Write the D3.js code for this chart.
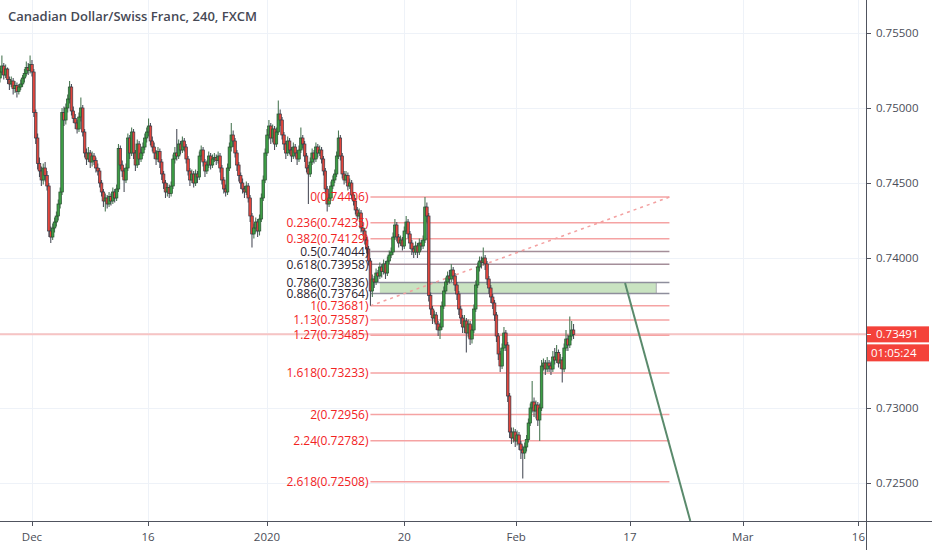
<!DOCTYPE html>
<html>
<head>
<meta charset="utf-8">
<script src="https://cdn.jsdelivr.net/npm/d3@7"></script>
<style>
html,body{margin:0;padding:0;background:#fff;}
svg{display:block;font-family:"Open Sans",sans-serif;}
</style>
</head>
<body>
<script>
// ---------------- DATA ----------------
const title = "Canadian Dollar/Swiss Franc, 240, FXCM";

const opens = [
0.7520,0.7524,0.7528,0.7522,0.7526,0.7519,0.7516,0.7518,0.7513,0.7515,
0.7511,0.7514,0.7516,0.7520,0.7523,0.7527,0.7525,0.7529,0.7524,0.7497,
0.7480,0.7463,0.7458,0.7452,0.7460,0.7455,0.7448,0.7418,0.7414,0.7420,
0.7424,0.7428,0.7436,0.7444,0.7497,0.7492,0.7500,0.7506,0.7514,0.7498,
0.7493,0.7490,0.7486,0.7494,0.7500,0.7484,0.7470,0.7466,0.7470,0.7464,
0.7468,0.7465,0.7460,0.7458,0.7450,0.7444,0.7438,0.7440,0.7436,0.7441,
0.7438,0.7444,0.7440,0.7446,0.7473,0.7462,0.7458,0.7452,0.7460,0.7480,
0.7470,0.7484,0.7470,0.7462,0.7476,0.7466,0.7470,0.7474,0.7480,0.7484,
0.7488,0.7478,0.7474,0.7470,0.7466,0.7471,0.7464,0.7456,0.7450,0.7444,
0.7447,0.7443,0.7448,0.7466,0.7470,0.7468,0.7476,0.7472,0.7478,0.7474,
0.7466,0.7458,0.7452,0.7456,0.7450,0.7456,0.7454,0.7468,0.7472,0.7464,
0.7458,0.7462,0.7468,0.7462,0.7466,0.7467,0.7465,0.7468,0.7460,0.7452,
0.7446,0.7444,0.7460,0.7474,0.7482,0.7478,0.7470,0.7462,0.7455,0.7450,
0.7446,0.7444,0.7448,0.7440,0.7428,0.7416,0.7420,0.7424,0.7418,0.7426,
0.7440,0.7452,0.7470,0.7482,0.7488,0.7480,0.7486,0.7476,0.7484,0.7496,
0.7492,0.7482,0.7476,0.7470,0.7478,0.7472,0.7468,0.7474,0.7470,0.7466,
0.7472,0.7480,0.7476,0.7468,0.7460,0.7456,0.7464,0.7470,0.7466,0.7474,
0.7470,0.7472,0.7466,0.7458,0.7446,0.7436,0.7440,0.7448,0.7452,0.7456,
0.7468,0.7480,0.7468,0.7456,0.7452,0.7455,0.7448,0.7450,0.7442,0.7438,
0.7432,0.7428,0.7430,0.7420,0.7418,0.7412,0.7406,0.7398,0.7378,0.7386,
0.7384,0.7390,0.7388,0.7394,0.7391,0.7396,0.7390,0.7398,0.7402,0.7404,
0.7414,0.7422,0.7414,0.7410,0.7412,0.7408,0.7418,0.7424,0.7416,0.7410,
0.7406,0.7404,0.7408,0.7404,0.7410,0.7408,0.7412,0.7434,0.7428,0.7375,
0.7366,0.7360,0.7362,0.7356,0.7352,0.7354,0.7368,0.7378,0.7384,0.7388,
0.7386,0.7392,0.7388,0.7382,0.7376,0.7366,0.7360,0.7354,0.7358,0.7350,
0.7356,0.7346,0.7352,0.7366,0.7382,0.7394,0.7398,0.7397,0.7400,0.7396,
0.7386,0.7380,0.7374,0.7370,0.7362,0.7348,0.7336,0.7328,0.7340,0.7350,
0.7342,0.7308,0.7284,0.7280,0.7284,0.7278,0.7282,0.7276,0.7272,0.7270,
0.7274,0.7279,0.7290,0.7300,0.7304,0.7298,0.7302,0.7292,0.7300,0.7328,
0.7330,0.7326,0.7330,0.7328,0.7326,0.7334,0.7332,0.7337,0.7330,0.7332,
0.7326,0.7340,0.7346,0.7342,0.7348,0.7352];

const highs = [
0.7527,0.7535,0.7530,0.7529,0.7527,0.7521,0.7521,0.7520,0.7518,0.7517,
0.7516,0.7519,0.7522,0.7526,0.7531,0.7530,0.7535,0.7532,0.7526,0.7499,
0.7483,0.7467,0.7461,0.7463,0.7464,0.7458,0.7450,0.7421,0.7423,0.7427,
0.7431,0.7439,0.7447,0.7500,0.7501,0.7503,0.7509,0.7518,0.7516,0.7501,
0.7496,0.7492,0.7497,0.7507,0.7502,0.7486,0.7473,0.7474,0.7472,0.7471,
0.7470,0.7467,0.7463,0.7460,0.7452,0.7446,0.7443,0.7442,0.7444,0.7443,
0.7447,0.7446,0.7449,0.7476,0.7475,0.7465,0.7460,0.7463,0.7483,0.7482,
0.7487,0.7486,0.7472,0.7479,0.7478,0.7473,0.7477,0.7483,0.7487,0.7493,
0.7490,0.7481,0.7477,0.7472,0.7474,0.7473,0.7466,0.7458,0.7452,0.7450,
0.7449,0.7451,0.7469,0.7474,0.7486,0.7479,0.7478,0.7481,0.7480,0.7476,
0.7468,0.7460,0.7459,0.7458,0.7459,0.7458,0.7471,0.7475,0.7474,0.7466,
0.7465,0.7471,0.7470,0.7469,0.7470,0.7469,0.7471,0.7470,0.7462,0.7454,
0.7449,0.7463,0.7477,0.7490,0.7485,0.7480,0.7472,0.7464,0.7457,0.7453,
0.7448,0.7451,0.7450,0.7442,0.7430,0.7423,0.7427,0.7426,0.7429,0.7443,
0.7455,0.7473,0.7486,0.7492,0.7490,0.7489,0.7488,0.7487,0.7505,0.7499,
0.7494,0.7484,0.7478,0.7481,0.7480,0.7474,0.7477,0.7476,0.7472,0.7475,
0.7487,0.7482,0.7478,0.7470,0.7462,0.7467,0.7473,0.7472,0.7477,0.7476,
0.7475,0.7474,0.7468,0.7460,0.7448,0.7443,0.7451,0.7455,0.7459,0.7471,
0.7485,0.7482,0.7470,0.7458,0.7458,0.7457,0.7453,0.7452,0.7444,0.7440,
0.7434,0.7433,0.7432,0.7422,0.7420,0.7414,0.7408,0.7400,0.7389,0.7388,
0.7393,0.7392,0.7397,0.7396,0.7399,0.7398,0.7401,0.7405,0.7407,0.7417,
0.7426,0.7424,0.7416,0.7415,0.7414,0.7421,0.7428,0.7426,0.7418,0.7412,
0.7408,0.7411,0.7410,0.7413,0.7412,0.7415,0.74406,0.7437,0.7430,0.7377,
0.7368,0.7365,0.7364,0.7358,0.7357,0.7371,0.7381,0.7387,0.7391,0.7392,
0.7396,0.7394,0.7390,0.7384,0.7378,0.7368,0.7362,0.7362,0.7360,0.7359,
0.7358,0.7355,0.7369,0.7385,0.7397,0.7401,0.7401,0.7407,0.7402,0.7398,
0.7388,0.7382,0.7376,0.7372,0.7364,0.7350,0.7338,0.7343,0.7354,0.7352,
0.7344,0.7310,0.7287,0.7287,0.7286,0.7285,0.7284,0.7278,0.7275,0.7277,
0.7282,0.7293,0.7303,0.7318,0.7307,0.7305,0.7304,0.7303,0.7332,0.7333,
0.7332,0.7334,0.7332,0.7331,0.7338,0.7340,0.7342,0.7339,0.7336,0.7334,
0.7343,0.7352,0.7349,0.7361,0.7358,0.7356];

const lows = [
0.7517,0.7522,0.7519,0.7520,0.7516,0.7512,0.7514,0.7509,0.7510,0.7507,
0.7509,0.7512,0.7514,0.7517,0.7521,0.7522,0.7523,0.7521,0.7494,0.7476,
0.7459,0.7454,0.7448,0.7449,0.7451,0.7445,0.7414,0.7410,0.7412,0.7417,
0.7421,0.7425,0.7433,0.7442,0.7488,0.7489,0.7497,0.7503,0.7495,0.7490,
0.7486,0.7483,0.7484,0.7491,0.7481,0.7467,0.7462,0.7464,0.7460,0.7461,
0.7462,0.7457,0.7455,0.7447,0.7441,0.7434,0.7431,0.7433,0.7434,0.7435,
0.7436,0.7437,0.7438,0.7444,0.7459,0.7454,0.7444,0.7450,0.7458,0.7466,
0.7468,0.7466,0.7458,0.7460,0.7462,0.7464,0.7468,0.7472,0.7477,0.7481,
0.7475,0.7471,0.7466,0.7462,0.7464,0.7460,0.7452,0.7446,0.7440,0.7441,
0.7440,0.7441,0.7446,0.7463,0.7465,0.7466,0.7469,0.7470,0.7471,0.7463,
0.7455,0.7448,0.7450,0.7447,0.7448,0.7450,0.7452,0.7465,0.7461,0.7454,
0.7456,0.7460,0.7459,0.7460,0.7464,0.7462,0.7463,0.7457,0.7449,0.7443,
0.7441,0.7442,0.7458,0.7471,0.7474,0.7467,0.7458,0.7451,0.7446,0.7443,
0.7440,0.7442,0.7437,0.7424,0.7407,0.7413,0.7417,0.7414,0.7415,0.7424,
0.7438,0.7450,0.7468,0.7479,0.7476,0.7477,0.7472,0.7474,0.7482,0.7488,
0.7479,0.7472,0.7466,0.7468,0.7469,0.7464,0.7466,0.7467,0.7462,0.7464,
0.7470,0.7473,0.7464,0.7457,0.7436,0.7454,0.7462,0.7463,0.7464,0.7467,
0.7468,0.7463,0.7455,0.7443,0.7431,0.7434,0.7438,0.7446,0.7450,0.7454,
0.7466,0.7465,0.7453,0.7449,0.7450,0.7445,0.7446,0.7439,0.7435,0.7429,
0.7425,0.7426,0.7417,0.7415,0.7409,0.7403,0.7395,0.73681,0.7374,0.7380,
0.7382,0.7384,0.7386,0.7387,0.7389,0.7386,0.7388,0.7396,0.7400,0.7402,
0.7412,0.7411,0.7407,0.7408,0.7405,0.7406,0.7416,0.7413,0.7406,0.7402,
0.7400,0.7402,0.7400,0.7402,0.7405,0.7406,0.7410,0.7424,0.7371,0.7362,
0.7356,0.7357,0.7352,0.7348,0.7346,0.7352,0.7366,0.7376,0.7382,0.7383,
0.7384,0.7385,0.7378,0.7372,0.7362,0.7356,0.7350,0.7350,0.7337,0.7347,
0.7342,0.7343,0.7350,0.7364,0.7380,0.7391,0.7393,0.7395,0.7392,0.7382,
0.7376,0.7370,0.7366,0.7358,0.7344,0.7332,0.7324,0.7326,0.7338,0.7338,
0.7304,0.7280,0.7276,0.7277,0.7274,0.7275,0.7272,0.7266,0.7253,0.7266,
0.7271,0.7277,0.7288,0.7297,0.7294,0.7293,0.7288,0.7278,0.7298,0.7325,
0.7322,0.7324,0.7324,0.7322,0.7324,0.7329,0.7330,0.7327,0.7326,0.7317,
0.7324,0.7338,0.7338,0.7340,0.7345,0.7346];

const closes = [
0.7524,0.7528,0.7522,0.7526,0.7519,0.7516,0.7518,0.7513,0.7515,0.7511,
0.7514,0.7516,0.7520,0.7523,0.7527,0.7525,0.7529,0.7524,0.7497,0.7480,
0.7463,0.7458,0.7452,0.7460,0.7455,0.7448,0.7418,0.7414,0.7420,0.7424,
0.7428,0.7436,0.7444,0.7497,0.7492,0.7500,0.7506,0.7514,0.7498,0.7493,
0.7490,0.7486,0.7494,0.7500,0.7484,0.7470,0.7466,0.7470,0.7464,0.7468,
0.7465,0.7460,0.7458,0.7450,0.7444,0.7438,0.7440,0.7436,0.7441,0.7438,
0.7444,0.7440,0.7446,0.7473,0.7462,0.7458,0.7452,0.7460,0.7480,0.7470,
0.7484,0.7470,0.7462,0.7476,0.7466,0.7470,0.7474,0.7480,0.7484,0.7488,
0.7478,0.7474,0.7470,0.7466,0.7471,0.7464,0.7456,0.7450,0.7444,0.7447,
0.7443,0.7448,0.7466,0.7470,0.7468,0.7476,0.7472,0.7478,0.7474,0.7466,
0.7458,0.7452,0.7456,0.7450,0.7456,0.7454,0.7468,0.7472,0.7464,0.7458,
0.7462,0.7468,0.7462,0.7466,0.7467,0.7465,0.7468,0.7460,0.7452,0.7446,
0.7444,0.7460,0.7474,0.7482,0.7478,0.7470,0.7462,0.7455,0.7450,0.7446,
0.7444,0.7448,0.7440,0.7428,0.7416,0.7420,0.7424,0.7418,0.7426,0.7440,
0.7452,0.7470,0.7482,0.7488,0.7480,0.7486,0.7476,0.7484,0.7496,0.7492,
0.7482,0.7476,0.7470,0.7478,0.7472,0.7468,0.7474,0.7470,0.7466,0.7472,
0.7480,0.7476,0.7468,0.7460,0.7456,0.7464,0.7470,0.7466,0.7474,0.7470,
0.7472,0.7466,0.7458,0.7446,0.7436,0.7440,0.7448,0.7452,0.7456,0.7468,
0.7480,0.7468,0.7456,0.7452,0.7455,0.7448,0.7450,0.7442,0.7438,0.7432,
0.7428,0.7430,0.7420,0.7418,0.7412,0.7406,0.7398,0.7378,0.7386,0.7384,
0.7390,0.7388,0.7394,0.7391,0.7396,0.7390,0.7398,0.7402,0.7404,0.7414,
0.7422,0.7414,0.7410,0.7412,0.7408,0.7418,0.7424,0.7416,0.7410,0.7406,
0.7404,0.7408,0.7404,0.7410,0.7408,0.7412,0.7434,0.7428,0.7375,0.7366,
0.7360,0.7362,0.7356,0.7352,0.7354,0.7368,0.7378,0.7384,0.7388,0.7386,
0.7392,0.7388,0.7382,0.7376,0.7366,0.7360,0.7354,0.7358,0.7350,0.7356,
0.7346,0.7352,0.7366,0.7382,0.7394,0.7398,0.7397,0.7400,0.7396,0.7386,
0.7380,0.7374,0.7370,0.7362,0.7348,0.7336,0.7328,0.7340,0.7350,0.7342,
0.7308,0.7284,0.7280,0.7284,0.7278,0.7282,0.7276,0.7272,0.7270,0.7274,
0.7279,0.7290,0.7300,0.7304,0.7298,0.7302,0.7292,0.7300,0.7328,0.7330,
0.7326,0.7330,0.7328,0.7326,0.7334,0.7332,0.7337,0.7330,0.7332,0.7326,
0.7340,0.7346,0.7342,0.7348,0.7352,0.73491];

// time axis (bar index of each date label)
const dateLabels = ["Dec","16","2020","20","Feb","17","Mar","16"];
const dateIdx    = [17, 78.7, 142, 215, 274.5, 335, 395, 456.5];

// price axis
const priceTicks = [0.755, 0.750, 0.745, 0.740, 0.735, 0.730, 0.725];

// Fibonacci extension drawing
const fibLevels = [0, 0.236, 0.382, 0.5, 0.618, 0.786, 0.886, 1, 1.13, 1.27, 1.618, 2, 2.24, 2.618];
const fibPrices = [0.74406, 0.74235, 0.74129, 0.74044, 0.73958, 0.73836, 0.73764, 0.73681, 0.73587, 0.73485, 0.73233, 0.72956, 0.72782, 0.72508];
const fibSpanIdx = [197, 356];
const zonePrices = [0.73836, 0.73764];
const zoneIdx = [202, 349];
const diagIdx = [197, 356];
const diagPrices = [0.73681, 0.74406];
const trendIdx = [332.4, 367.1];
const trendPrices = [0.73833, 0.72247];

const lastPrice = 0.73491;
const countdown = "01:05:24";

// ---------------- DRAW ----------------
const W = 932, H = 550, plotR = 866, plotB = 521;
const svg = d3.select("body").append("svg").attr("width", W).attr("height", H);

const x = d3.scaleLinear().domain([0, 460]).range([0, 865]);
const y = d3.scaleLinear().domain([0.72, 0.7572]).range([558, 0]);

svg.append("defs").append("clipPath").attr("id","plot")
  .append("rect").attr("x",0).attr("y",0).attr("width",plotR).attr("height",plotB);

const plot = svg.append("g").attr("clip-path","url(#plot)");

// grid
plot.append("g").selectAll("line").data(dateIdx).join("line")
  .attr("x1", d=>Math.round(x(d))+0.5).attr("x2", d=>Math.round(x(d))+0.5)
  .attr("y1",0).attr("y2",plotB).attr("stroke","#eef2f8").attr("stroke-width",1);
plot.append("g").selectAll("line").data(priceTicks).join("line")
  .attr("y1", d=>Math.round(y(d))+0.5).attr("y2", d=>Math.round(y(d))+0.5)
  .attr("x1",0).attr("x2",plotR).attr("stroke","#eef2f8").attr("stroke-width",1);

// current price line
plot.append("line").attr("x1",0).attr("x2",plotR)
  .attr("y1",y(lastPrice)).attr("y2",y(lastPrice))
  .attr("stroke","#f7c4c4").attr("stroke-width",2);

// zone
plot.append("rect")
  .attr("x", x(zoneIdx[0])).attr("width", x(zoneIdx[1]) - x(zoneIdx[0]))
  .attr("y", y(zonePrices[0])).attr("height", y(zonePrices[1]) - y(zonePrices[0]))
  .attr("fill","#c9e3c1");
plot.append("line")
  .attr("x1", x(zoneIdx[1])).attr("x2", x(zoneIdx[1]))
  .attr("y1", y(zonePrices[0])).attr("y2", y(zonePrices[1]))
  .attr("stroke","#a9acb2").attr("stroke-width",1);

const darkSet = new Set([0.5, 0.618]);
const grayset = new Set([0.786, 0.886]);
const fibData = fibLevels.map((l,i)=>({l, p: fibPrices[i]}));
plot.append("g").selectAll("line").data(fibData).join("line")
  .attr("x1", x(fibSpanIdx[0])).attr("x2", x(fibSpanIdx[1]))
  .attr("y1", d=>y(d.p)).attr("y2", d=>y(d.p))
  .attr("stroke", d=> darkSet.has(d.l) ? "#a48e99" : grayset.has(d.l) ? "#8e8e9c" : "#f5a3a3")
  .attr("stroke-width", 1.5);

// dashed diagonal
plot.append("line")
  .attr("x1", x(diagIdx[0])).attr("y1", y(diagPrices[0]))
  .attr("x2", x(diagIdx[1])).attr("y2", y(diagPrices[1]))
  .attr("stroke","#f3a0a0").attr("stroke-width",1.5).attr("stroke-dasharray","3,4");

// candles
const candles = closes.map((c,i)=>({i, o: opens[i], h: highs[i], l: lows[i], c}));
const cg = plot.append("g");
cg.selectAll("line").data(candles).join("line")
  .attr("x1", d=>x(d.i)).attr("x2", d=>x(d.i))
  .attr("y1", d=>y(d.h)).attr("y2", d=>y(d.l))
  .attr("stroke", d=> d.c >= d.o ? "#4d7a57" : "#4e515c").attr("stroke-width",1.1);
cg.selectAll("rect").data(candles).join("rect")
  .attr("x", d=>x(d.i)-1.3).attr("width",2.6)
  .attr("y", d=>y(Math.max(d.o,d.c)))
  .attr("height", d=>Math.max(1, Math.abs(y(d.o)-y(d.c))))
  .attr("fill", d=> d.c >= d.o ? "#3c9e45" : "#e2453c")
  .attr("stroke", d=> d.c >= d.o ? "#2a4f32" : "#383a46").attr("stroke-width",0.7);

// green trend line
plot.append("line")
  .attr("x1", x(trendIdx[0])).attr("y1", y(trendPrices[0]))
  .attr("x2", x(trendIdx[1])).attr("y2", y(trendPrices[1]))
  .attr("stroke","#5a8a6c").attr("stroke-width",2);

// fib labels
svg.append("g").selectAll("text").data(fibData).join("text")
  .attr("x", x(fibSpanIdx[0]) - 2).attr("y", d=>y(d.p))
  .attr("dy","0.35em").attr("text-anchor","end")
  .attr("font-size",12)
  .attr("fill", d=> (darkSet.has(d.l) || grayset.has(d.l)) ? "#2c2430" : "#f2231f")
  .text(d=> `${d.l}(${d.p.toFixed(5)})`);

// title
svg.append("text").attr("x",8).attr("y",21)
  .attr("font-size",13).attr("font-weight",600).attr("fill","#464955")
  .text(title);

// axes
svg.append("line").attr("x1",plotR+0.5).attr("x2",plotR+0.5).attr("y1",0).attr("y2",H)
  .attr("stroke","#50535e").attr("stroke-width",1);
svg.append("line").attr("x1",0).attr("x2",W).attr("y1",plotB+0.5).attr("y2",plotB+0.5)
  .attr("stroke","#50535e").attr("stroke-width",1.2);

const ya = svg.append("g");
ya.selectAll("line").data(priceTicks).join("line")
  .attr("x1",plotR).attr("x2",plotR+5)
  .attr("y1",d=>Math.round(y(d))+0.5).attr("y2",d=>Math.round(y(d))+0.5)
  .attr("stroke","#50535e");
ya.selectAll("text").data(priceTicks).join("text")
  .attr("x",plotR+10).attr("y",d=>y(d)).attr("dy","0.35em")
  .attr("font-size",11.5).attr("fill","#4a4d57")
  .text(d=>d.toFixed(5));

const xa = svg.append("g");
xa.selectAll("line").data(dateIdx).join("line")
  .attr("x1",d=>Math.round(x(d))+0.5).attr("x2",d=>Math.round(x(d))+0.5)
  .attr("y1",plotB).attr("y2",plotB+5).attr("stroke","#50535e");
xa.selectAll("text").data(dateLabels).join("text")
  .attr("x",(d,i)=>x(dateIdx[i])).attr("y",541)
  .attr("text-anchor","middle").attr("font-size",11.5).attr("fill","#4a4d57")
  .text(d=>d);

// last price labels
const ly = y(lastPrice);
svg.append("rect").attr("x",plotR+1).attr("y",ly-8).attr("width",62).attr("height",16).attr("fill","#f4423a");
svg.append("line").attr("x1",plotR+1).attr("x2",plotR+5).attr("y1",Math.round(ly)+0.5).attr("y2",Math.round(ly)+0.5).attr("stroke","#fff");
svg.append("text").attr("x",plotR+10).attr("y",ly).attr("dy","0.35em")
  .attr("font-size",11.5).attr("fill","#fff").text(lastPrice.toFixed(5));
svg.append("rect").attr("x",plotR+1).attr("y",ly+10).attr("width",62).attr("height",17).attr("fill","#f4423a");
svg.append("text").attr("x",plotR+5).attr("y",ly+18.5).attr("dy","0.35em")
  .attr("font-size",11.5).attr("fill","#fff").text(countdown);
</script>
</body>
</html>
